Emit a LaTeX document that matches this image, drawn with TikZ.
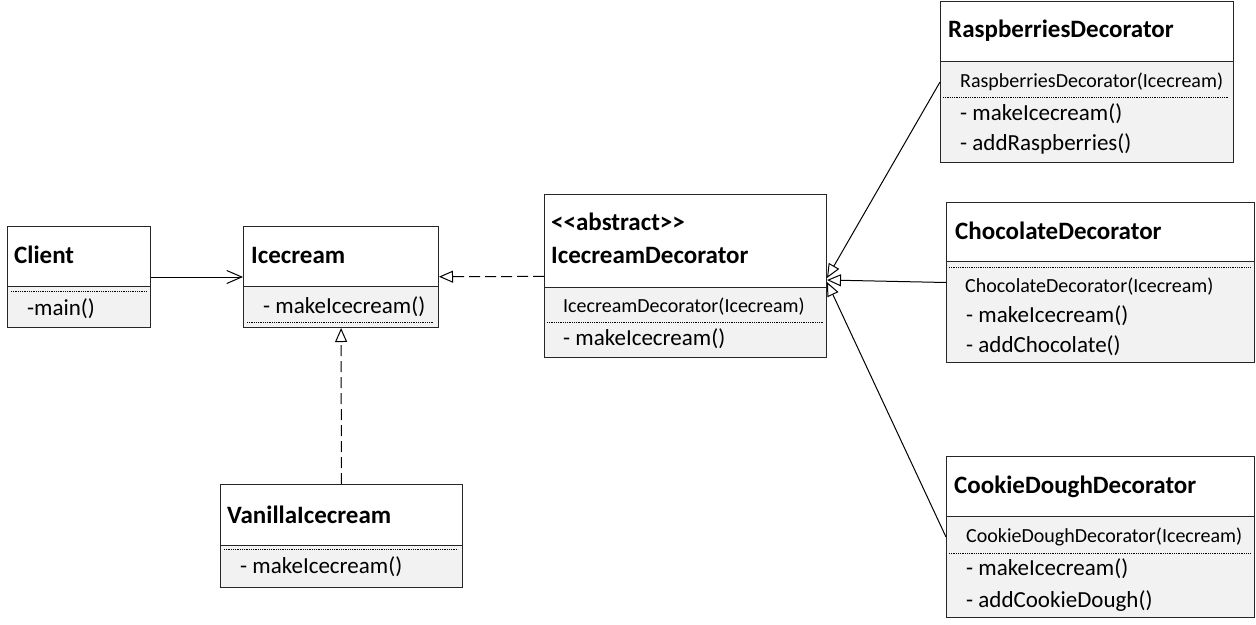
\documentclass[tikz,border=0pt]{standalone}
\usepackage{fontspec}
\setmainfont{Carlito}
\usetikzlibrary{arrows.meta}
\tikzset{
  classbox/.style={draw=black!85, fill=black!5, line width=1pt, inner sep=0pt, anchor=north west},
  classhead/.style={draw=black!85, fill=white, line width=1pt, inner sep=0pt, anchor=north west},
  classname/.style={anchor=base west, inner sep=0pt, font=\fontsize{25}{29}\selectfont\bfseries},
  member/.style={anchor=base west, inner sep=0pt, font=\fontsize{23}{27}\selectfont},
  ctor/.style={anchor=base west, inner sep=0pt, font=\fontsize{20}{24}\selectfont},
  sepline/.style={densely dotted, line width=0.8pt},
  realize/.style={dash pattern=on 11pt off 5pt, -{Triangle[open,length=14pt,width=12pt]}},
  inherit/.style={-{Triangle[open,length=14pt,width=12pt]}},
  uses/.style={-{Straight Barb[length=15pt,width=13pt]}}
}
\begin{document}
\begin{tikzpicture}[x=1pt,y=-1pt]
  \useasboundingbox (0,0) rectangle (1256,624);
  \node[classbox, minimum width=143pt, minimum height=101pt] (client) at (7,226) {};
  \node[classhead, minimum width=143pt, minimum height=60pt] (clienthead) at (7,226) {};
  \node[classname] (clientname) at (14,263) {Client};
  \draw[sepline] (11,291) -- (147,291);
  \node[member] (clientmain) at (27,315) {-main()};

  \node[classbox, minimum width=195pt, minimum height=101pt] (icecream) at (243,226) {};
  \node[classhead, minimum width=195pt, minimum height=60pt] (icecreamhead) at (243,226) {};
  \node[classname] (icecreamname) at (251,263) {Icecream};
  \node[member] (icecreammake) at (263,313) {- makeIcecream()};
  \draw[sepline] (247,322) -- (434,322);

  \node[classbox, minimum width=282pt, minimum height=163pt] (deco) at (544,194) {};
  \node[classhead, minimum width=282pt, minimum height=93pt] (decohead) at (544,194) {};
  \node[classname] (decostereo) at (551,230) {<\kern0pt<abstract>\kern0pt>};
  \node[classname] (deconame) at (551,263) {IcecreamDecorator};
  \node[ctor] (decoctor) at (563,312) {IcecreamDecorator(Icecream)};
  \draw[sepline] (547,322) -- (823,322);
  \node[member] (decomake) at (563,345) {- makeIcecream()};

  \node[classbox, minimum width=242pt, minimum height=103pt] (vanilla) at (220,484) {};
  \node[classhead, minimum width=242pt, minimum height=61pt] (vanillahead) at (220,484) {};
  \node[classname] (vanillaname) at (227,523) {VanillaIcecream};
  \draw[sepline] (224,549) -- (458,549);
  \node[member] (vanillamake) at (240,573) {- makeIcecream()};

  \node[classbox, minimum width=293pt, minimum height=161pt] (rasp) at (940,1) {};
  \node[classhead, minimum width=293pt, minimum height=60pt] (rasphead) at (940,1) {};
  \node[classname] (raspname) at (948,37) {RaspberriesDecorator};
  \node[ctor] (raspctor) at (960,87) {RaspberriesDecorator(Icecream)};
  \draw[sepline] (943,97) -- (1229,97);
  \node[member] (raspmake) at (960,120) {- makeIcecream()};
  \node[member] (raspadd) at (960,150) {- addRaspberries()};

  \node[classbox, minimum width=308pt, minimum height=160pt] (choc) at (946,202) {};
  \node[classhead, minimum width=308pt, minimum height=59pt] (chochead) at (946,202) {};
  \node[classname] (chocname) at (955,239) {ChocolateDecorator};
  \draw[sepline] (949,267) -- (1250,267);
  \node[ctor] (chocctor) at (965,292) {ChocolateDecorator(Icecream)};
  \node[member] (chocmake) at (966,322) {- makeIcecream()};
  \node[member] (chocadd) at (966,352) {- addChocolate()};

  \node[classbox, minimum width=308pt, minimum height=161pt] (cookie) at (946,456) {};
  \node[classhead, minimum width=308pt, minimum height=60pt] (cookiehead) at (946,456) {};
  \node[classname] (cookiename) at (954,493) {CookieDoughDecorator};
  \node[ctor] (cookiector) at (966,542) {CookieDoughDecorator(Icecream)};
  \draw[sepline] (949,553) -- (1250,553);
  \node[member] (cookiemake) at (966,575) {- makeIcecream()};
  \node[member] (cookieadd) at (966,607) {- addCookieDough()};

  \begin{scope}[line width=1pt]
    \draw[uses] (client) -- (icecream);
    \draw[realize] (deco) -- (icecream);
    \draw[realize] (vanilla) -- (icecream);
    \draw[inherit] (rasp.west) -- ([yshift=-2pt]deco.east);
    \draw[inherit] (choc.west) -- ([yshift=-4pt]deco.east);
    \draw[inherit] (cookie.west) -- ([yshift=-6pt]deco.east);
  \end{scope}
\end{tikzpicture}
\end{document}
